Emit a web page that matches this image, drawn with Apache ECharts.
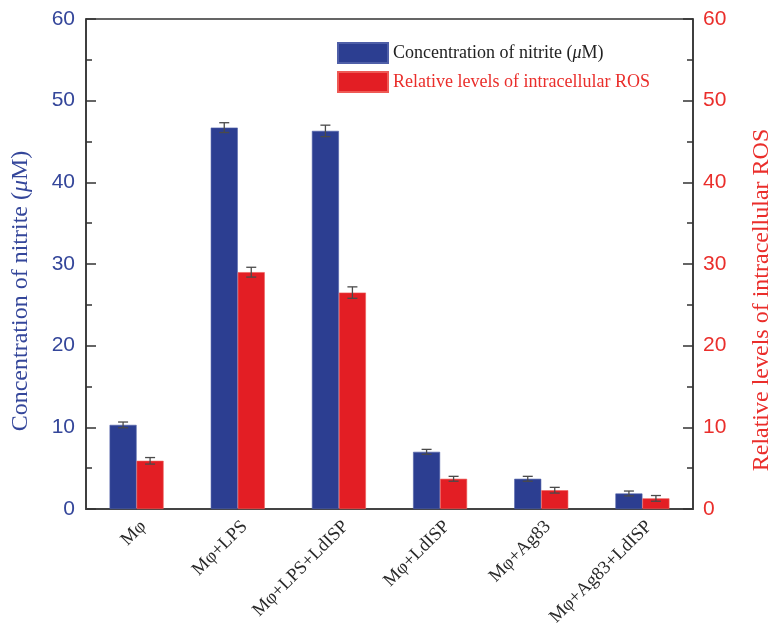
<!DOCTYPE html>
<html>
<head>
<meta charset="utf-8">
<script src="https://cdn.jsdelivr.net/npm/echarts@6/dist/echarts.min.js"></script>
<style>
  html, body { margin: 0; padding: 0; background: #fff; }
  #chart { width: 772px; height: 629px; }
</style>
</head>
<body>
<div id="chart"></div>
<script>
// Treatment groups
const categories = ['Mφ', 'Mφ+LPS', 'Mφ+LPS+LdISP', 'Mφ+LdISP', 'Mφ+Ag83', 'Mφ+Ag83+LdISP'];
// Nitrite concentration (μM) with standard deviation
const nitrite = [10.3, 46.7, 46.3, 7.0, 3.7, 1.9];
const nitriteErr = [0.35, 0.6, 0.7, 0.3, 0.3, 0.3];
// Relative intracellular ROS levels with standard deviation
const ros = [5.9, 29.0, 26.5, 3.7, 2.3, 1.3];
const rosErr = [0.4, 0.6, 0.7, 0.3, 0.35, 0.35];
// Shared tick values for both value axes
const axisMin = 0, axisMax = 60, axisStep = 10;

const BLUE = '#2c3e91';
const RED = '#e31e24';
const BLUE_TXT = '#34469a';
const RED_TXT = '#ea2e2b';
const BAR_W = 27;
const SERIF = 'Liberation Serif, Times New Roman, serif';

const chart = echarts.init(document.getElementById('chart'));

function errorSeries(name, values, errs, axisIdx, shift) {
  return {
    type: 'custom',
    name: name,
    yAxisIndex: axisIdx,
    z: 10,
    silent: true,
    data: values.map((v, i) => [i, v - errs[i], v + errs[i]]),
    renderItem: function (params, api) {
      const lo = api.coord([api.value(0), api.value(1)]);
      const hi = api.coord([api.value(0), api.value(2)]);
      const x = lo[0] + shift;
      const cap = 5;
      const st = { stroke: '#4a4a4a', lineWidth: 1.3 };
      return {
        type: 'group',
        children: [
          { type: 'line', shape: { x1: x, y1: lo[1], x2: x, y2: hi[1] }, style: st },
          { type: 'line', shape: { x1: x - cap, y1: hi[1], x2: x + cap, y2: hi[1] }, style: st },
          { type: 'line', shape: { x1: x - cap, y1: lo[1], x2: x + cap, y2: lo[1] }, style: st }
        ]
      };
    }
  };
}

function valueAxis(position, color) {
  return {
    type: 'value',
    position: position,
    min: axisMin,
    max: axisMax,
    interval: axisStep,
    axisLine: { show: true, lineStyle: { color: '#333', width: 1.5 } },
    axisTick: { show: true, inside: true, length: 10, lineStyle: { color: '#333', width: 1.5 } },
    minorTick: { show: true, splitNumber: 2, length: 6, lineStyle: { color: '#333', width: 1.5 } },
    splitLine: { show: false },
    axisLabel: {
      color: color,
      fontSize: 21,
      fontFamily: 'Liberation Sans, Arial, sans-serif',
      margin: 11
    }
  };
}

const leftAxis = valueAxis('left', BLUE_TXT);
const rightAxis = valueAxis('right', RED_TXT);
rightAxis.axisLabel.margin = 10;

chart.setOption({
  animation: false,
  backgroundColor: '#ffffff',
  grid: {
    left: 86, right: 79, top: 19, bottom: 119,
    show: true, borderColor: '#333', borderWidth: 1.5, backgroundColor: 'transparent'
  },
  legend: {
    left: 332,
    top: 37,
    orient: 'vertical',
    itemWidth: 50,
    itemHeight: 20,
    itemGap: 7,
    icon: 'rect',
    selectedMode: false,
    textStyle: { fontFamily: SERIF, fontSize: 18 },
    formatter: function (name) {
      if (name.indexOf('μ') >= 0) {
        return '{n|Concentration of nitrite (}{i|μ}{n|M)}';
      }
      return name;
    },
    data: [
      {
        name: 'Concentration of nitrite (μM)',
        textStyle: {
          color: '#222',
          rich: {
            n: { fontFamily: SERIF, fontSize: 18, color: '#222' },
            i: { fontFamily: SERIF, fontSize: 18, color: '#222', fontStyle: 'italic' }
          }
        }
      },
      { name: 'Relative levels of intracellular ROS', textStyle: { color: RED_TXT } }
    ]
  },
  xAxis: {
    type: 'category',
    data: categories,
    axisLine: { show: true, lineStyle: { color: '#444', width: 2 } },
    axisTick: { show: false },
    axisLabel: {
      rotate: 45,
      interval: 0,
      margin: 8,
      align: 'right',
      verticalAlign: 'top',
      color: '#2a2a2a',
      fontSize: 18.5,
      fontFamily: SERIF
    }
  },
  yAxis: [leftAxis, rightAxis],
  graphic: [
    {
      type: 'text',
      x: 21, y: 291,
      rotation: Math.PI / 2,
      style: {
        text: '{n|Concentration of nitrite (}{i|μ}{n|M)}',
        align: 'center',
        verticalAlign: 'middle',
        rich: {
          n: { fontFamily: SERIF, fontSize: 24, fill: BLUE_TXT },
          i: { fontFamily: SERIF, fontSize: 24, fill: BLUE_TXT, fontStyle: 'italic' }
        }
      }
    },
    {
      type: 'text',
      x: 762, y: 300,
      rotation: Math.PI / 2,
      style: {
        text: 'Relative levels of intracellular ROS',
        align: 'center',
        verticalAlign: 'middle',
        fontFamily: SERIF,
        fontSize: 24,
        fill: RED_TXT
      }
    }
  ],
  series: [
    {
      name: 'Concentration of nitrite (μM)',
      type: 'bar',
      yAxisIndex: 0,
      barWidth: BAR_W,
      barGap: '0%',
      itemStyle: { color: BLUE, borderColor: '#4f5fa8', borderWidth: 0.6 },
      data: nitrite
    },
    {
      name: 'Relative levels of intracellular ROS',
      type: 'bar',
      yAxisIndex: 1,
      barWidth: BAR_W,
      barGap: '0%',
      itemStyle: { color: RED, borderColor: '#ee5a55', borderWidth: 0.6 },
      data: ros
    },
    errorSeries('nitriteErr', nitrite, nitriteErr, 0, -BAR_W / 2),
    errorSeries('rosErr', ros, rosErr, 1, BAR_W / 2)
  ]
});
</script>
</body>
</html>
